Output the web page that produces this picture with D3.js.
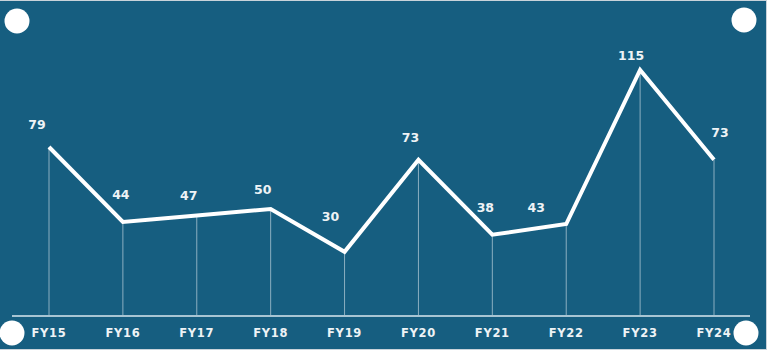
<!DOCTYPE html>
<html>
<head>
<meta charset="utf-8">
<script src="https://cdn.jsdelivr.net/npm/d3@7"></script>
<style>
  html, body { margin: 0; padding: 0; background: #ffffff; }
  svg { display: block; }
  .tick-label { font-family: "DejaVu Sans", sans-serif; font-weight: bold; font-size: 11.5px; fill: #eef3f6; letter-spacing: 0.7px; }
  .value-label { font-family: "DejaVu Sans", sans-serif; font-weight: bold; font-size: 12.5px; fill: #eef3f6; }
</style>
</head>
<body>
<div id="chart"></div>
<script>
// data
const years = ["FY15", "FY16", "FY17", "FY18", "FY19", "FY20", "FY21", "FY22", "FY23", "FY24"];
const counts = [79, 44, 47, 50, 30, 73, 38, 43, 115, 73];

// label placement, relative to the point (the source nudged them by hand)
const labelShift = [[-12, -23], [-2, -27], [-8, -20], [-8, -20], [-14, -35], [-8, -22], [-7, -27], [-30, -17], [-9, -15], [6, -27]];

const W = 768, H = 351;
const bg = "#165e80";

const svg = d3.select("#chart").append("svg")
  .attr("width", W)
  .attr("height", H);

svg.append("rect")
  .attr("x", -1).attr("y", 0.5)
  .attr("width", 767.5).attr("height", 349)
  .attr("fill", bg)
  .attr("stroke", "#c9d3da")
  .attr("stroke-width", 1);

const x = d3.scalePoint().domain(years).range([49, 714]);
const y = d3.scaleLinear().domain([0, 115]).range([316, 70]);

const data = years.map((d, i) => ({ year: d, value: counts[i], shift: labelShift[i] }));

// drop lines
svg.append("g")
  .selectAll("line")
  .data(data)
  .join("line")
  .attr("x1", d => x(d.year)).attr("x2", d => x(d.year))
  .attr("y1", d => y(d.value)).attr("y2", y(0))
  .attr("stroke", "#ffffff")
  .attr("stroke-opacity", 0.5)
  .attr("stroke-width", 1);

// baseline
svg.append("line")
  .attr("x1", 12).attr("x2", 750)
  .attr("y1", y(0)).attr("y2", y(0))
  .attr("stroke", "#a8c5d3")
  .attr("stroke-width", 2);

// the line
const line = d3.line()
  .x(d => x(d.year))
  .y(d => y(d.value));

svg.append("path")
  .datum(data)
  .attr("d", line)
  .attr("fill", "none")
  .attr("stroke", "#ffffff")
  .attr("stroke-width", 4)
  .attr("stroke-linejoin", "miter");

// value labels
svg.append("g")
  .selectAll("text")
  .data(data)
  .join("text")
  .attr("class", "value-label")
  .attr("x", d => x(d.year) + d.shift[0])
  .attr("y", d => y(d.value) + d.shift[1])
  .attr("text-anchor", "middle")
  .attr("dominant-baseline", "central")
  .text(d => d.value);

// category labels
svg.append("g")
  .selectAll("text")
  .data(years)
  .join("text")
  .attr("class", "tick-label")
  .attr("x", d => x(d))
  .attr("y", 333)
  .attr("text-anchor", "middle")
  .attr("dominant-baseline", "central")
  .text(d => d);

// corner dots
const corners = [[17, 21], [744, 20], [12, 333], [746, 333]];
svg.append("g")
  .selectAll("circle")
  .data(corners)
  .join("circle")
  .attr("cx", d => d[0]).attr("cy", d => d[1])
  .attr("r", 12.5)
  .attr("fill", "#ffffff");
</script>
</body>
</html>
